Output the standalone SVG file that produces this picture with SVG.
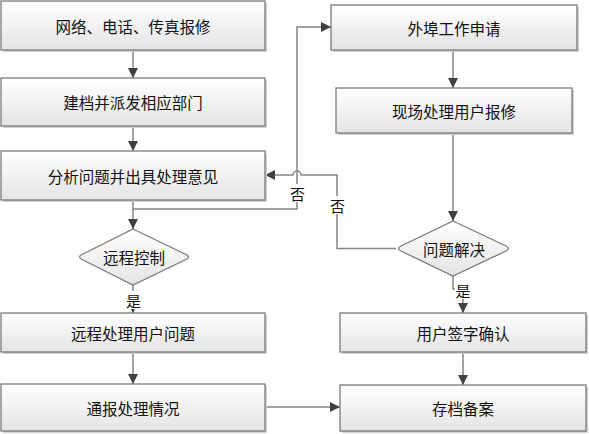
<svg xmlns="http://www.w3.org/2000/svg" width="589" height="434" viewBox="0 0 589 434">
<style>
.box{fill:url(#g);stroke:#7a7a7a;stroke-width:1.3}
.sh{fill:#d0d0d0}
.t{font-family:"Noto Sans CJK SC","Noto Sans",sans-serif;font-size:15.5px;fill:#111;text-anchor:middle;dominant-baseline:central}
.c{fill:none;stroke:#858585;stroke-width:1.5}
.lb{font-family:"Noto Sans CJK SC","Noto Sans",sans-serif;font-size:15px;fill:#111;text-anchor:middle;dominant-baseline:central}
</style>
<defs>
<linearGradient id="g" x1="0" y1="0" x2="0" y2="1">
<stop offset="0" stop-color="#ffffff"/>
<stop offset="1" stop-color="#e4e4e4"/>
</linearGradient>
<marker id="a" viewBox="0 0 10 10" refX="10" refY="5" markerWidth="10" markerHeight="10" markerUnits="userSpaceOnUse" orient="auto">
<path d="M0,0 L10,5 L0,10 z" fill="#404040"/>
</marker>
</defs>
<rect width="589" height="434" fill="#fff"/>
<g id="connectors">
<path class="c" d="M133,50 V78" marker-end="url(#a)"/>
<path class="c" d="M133,126 V151" marker-end="url(#a)"/>
<path class="c" d="M133,200 V229" marker-end="url(#a)"/>
<path class="c" d="M133,209 H297 V27 H331" marker-end="url(#a)"/>
<path class="c" d="M396,248.5 H337 V175 H301 A4,4 0 0 0 293,175 H265" marker-end="url(#a)"/>
<path class="c" d="M133,285 V313" marker-end="url(#a)"/>
<path class="c" d="M133,352 V384" marker-end="url(#a)"/>
<path class="c" d="M265,407 H340" marker-end="url(#a)"/>
<path class="c" d="M453,50 V88" marker-end="url(#a)"/>
<path class="c" d="M453,133 V221" marker-end="url(#a)"/>
<path class="c" d="M453,276 V289 H463 V313" marker-end="url(#a)"/>
<path class="c" d="M463,352 V385" marker-end="url(#a)"/>
<rect x="289" y="184" width="17" height="18" fill="#fff"/>
<text class="lb" x="297.5" y="193">否</text>
<rect x="329" y="196" width="17" height="18" fill="#fff"/>
<text class="lb" x="337.5" y="205">否</text>
<rect x="125" y="291" width="17" height="18" fill="#fff"/>
<text class="lb" x="133.5" y="300">是</text>
<rect x="455" y="281" width="17" height="18" fill="#fff"/>
<text class="lb" x="463" y="290">是</text>
</g>
<g id="n1"><rect class="sh" x="3" y="3" width="264" height="49"/><rect class="box" x="1" y="1" width="264" height="49"/><text class="t" x="133" y="25.5">网络、电话、传真报修</text></g>
<g id="n2"><rect class="sh" x="3" y="80" width="264" height="48"/><rect class="box" x="1" y="78" width="264" height="48"/><text class="t" x="133" y="102">建档并派发相应部门</text></g>
<g id="n3"><rect class="sh" x="3" y="153" width="264" height="49"/><rect class="box" x="1" y="151" width="264" height="49"/><text class="t" x="133" y="175.5">分析问题并出具处理意见</text></g>
<g id="n4"><path class="box" d="M133,229 L186,254.5 Q191,257 186,259.5 L133,285 L82,259.5 Q77,257 82,254.5 Z"/><text class="t" x="134" y="257">远程控制</text></g>
<g id="n5"><rect class="sh" x="3" y="315" width="264" height="39"/><rect class="box" x="1" y="313" width="264" height="39"/><text class="t" x="133" y="332.5">远程处理用户问题</text></g>
<g id="n6"><rect class="sh" x="3" y="386" width="264" height="47"/><rect class="box" x="1" y="384" width="264" height="47"/><text class="t" x="133" y="407.5">通报处理情况</text></g>
<g id="n7"><rect class="sh" x="333" y="7" width="246" height="45"/><rect class="box" x="331" y="5" width="246" height="45"/><text class="t" x="454" y="27.5">外埠工作申请</text></g>
<g id="n8"><rect class="sh" x="338" y="90" width="236" height="45"/><rect class="box" x="336" y="88" width="236" height="45"/><text class="t" x="454" y="110.5">现场处理用户报修</text></g>
<g id="n9"><path class="box" d="M453,221 L506,246 Q511,248.5 506,251 L453,276 L401,251 Q396,248.5 401,246 Z"/><text class="t" x="454" y="248.5">问题解决</text></g>
<g id="n10"><rect class="sh" x="342" y="315" width="246" height="39"/><rect class="box" x="340" y="313" width="246" height="39"/><text class="t" x="463" y="332.5">用户签字确认</text></g>
<g id="n11"><rect class="sh" x="342" y="387" width="246" height="46"/><rect class="box" x="340" y="385" width="246" height="46"/><text class="t" x="463" y="408">存档备案</text></g>
</svg>
